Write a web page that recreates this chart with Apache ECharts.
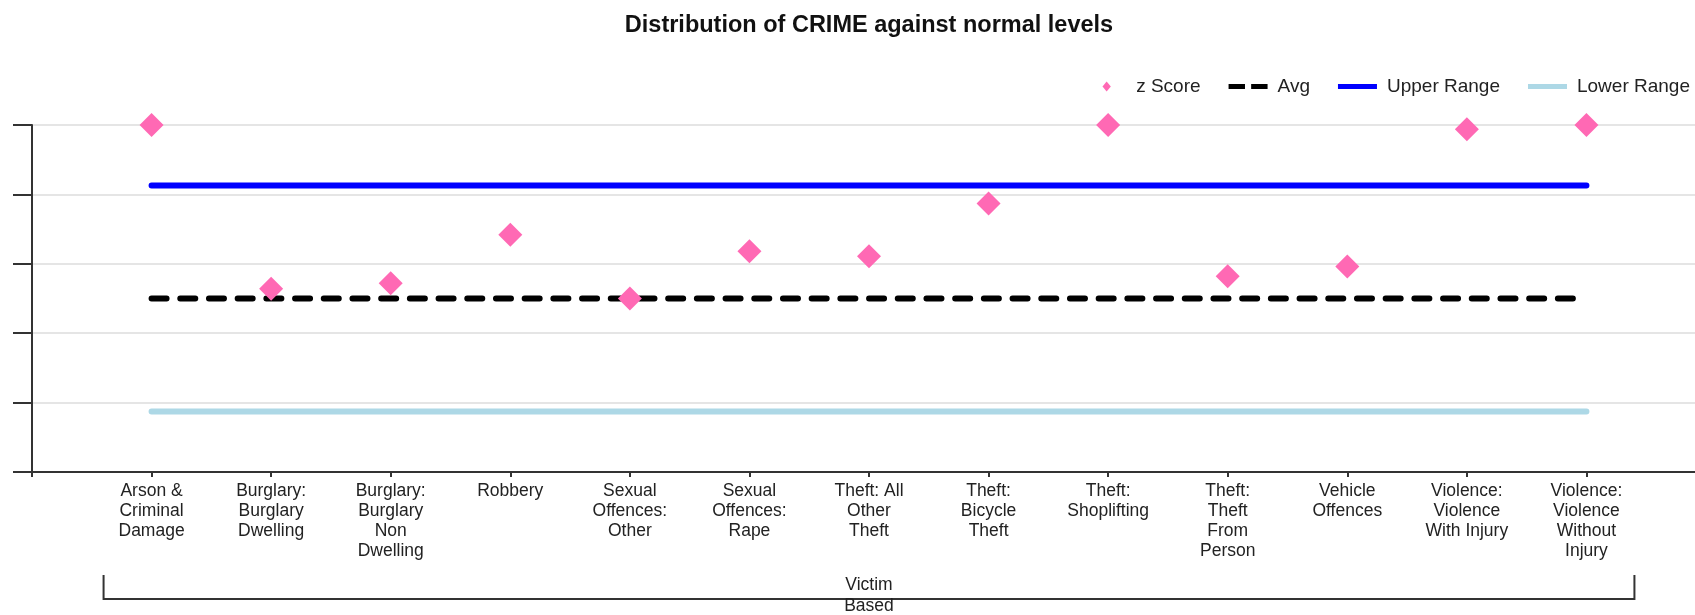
<!DOCTYPE html>
<html>
<head>
<meta charset="utf-8">
<script src="https://cdn.jsdelivr.net/npm/echarts@6/dist/echarts.min.js"></script>
<style>
  html, body { margin: 0; padding: 0; background: #ffffff; }
  #chart { width: 1695px; height: 615px; }
</style>
</head>
<body>
<div id="chart"></div>
<script>
// ---- Data ----
const categories = [
  'Arson & Criminal Damage',
  'Burglary: Burglary Dwelling',
  'Burglary: Burglary Non Dwelling',
  'Robbery',
  'Sexual Offences: Other',
  'Sexual Offences: Rape',
  'Theft: All Other Theft',
  'Theft: Bicycle Theft',
  'Theft: Shoplifting',
  'Theft: Theft From Person',
  'Vehicle Offences',
  'Violence: Violence With Injury',
  'Violence: Violence Without Injury'
];
const tickLabels = [
  'Arson &\nCriminal\nDamage',
  'Burglary:\nBurglary\nDwelling',
  'Burglary:\nBurglary\nNon\nDwelling',
  'Robbery',
  'Sexual\nOffences:\nOther',
  'Sexual\nOffences:\nRape',
  'Theft: All\nOther\nTheft',
  'Theft:\nBicycle\nTheft',
  'Theft:\nShoplifting',
  'Theft:\nTheft\nFrom\nPerson',
  'Vehicle\nOffences',
  'Violence:\nViolence\nWith Injury',
  'Violence:\nViolence\nWithout\nInjury'
];
const groupLabel = 'Victim\nBased';
// z scores (avg = 0); the axis runs from -2.5 (bottom) to 2.5 (top)
const zScore     = [2.50, 0.14, 0.22, 0.92, 0.00, 0.68, 0.61, 1.37, 2.50, 0.32, 0.46, 2.44, 2.50];
const avgLine    = [0, 0, 0, 0, 0, 0, 0, 0, 0, 0, 0, 0, 0];
const upperRange = [1.63, 1.63, 1.63, 1.63, 1.63, 1.63, 1.63, 1.63, 1.63, 1.63, 1.63, 1.63, 1.63];
const lowerRange = [-1.63, -1.63, -1.63, -1.63, -1.63, -1.63, -1.63, -1.63, -1.63, -1.63, -1.63, -1.63, -1.63];
const Z_MIN = -2.5, Z_MAX = 2.5;

// value axis is drawn from 0..5 so that ticks fall on -2.5, -1.5, ..., 2.5
const toAxis = v => +(v - Z_MIN).toFixed(3);
const pad = arr => ['-'].concat(arr.map(toAxis), ['-']);
const axisCats = [''].concat(tickLabels, ['']);

const FONT = '"Liberation Sans", Arial, sans-serif';
const chart = echarts.init(document.getElementById('chart'));

const ICON_DIAMOND = 'path://M5,0L10,6L5,12L0,6Z';
const ICON_LINE = 'path://M0,0H39V5H0Z';
const ICON_DASH = 'path://M0,0H16V5H0ZM22,0H38V5H22Z';

const option = {
  animation: false,
  backgroundColor: '#ffffff',
  title: {
    text: 'Distribution of CRIME against normal levels',
    left: 864,
    top: 9,
    textAlign: 'center',
    textStyle: { fontFamily: FONT, fontSize: 23.5, fontWeight: 'bold', color: '#111' }
  },
  legend: {
    right: 0,
    top: 72,
    itemWidth: 39,
    itemHeight: 10,
    itemGap: 28,
    symbolKeepAspect: true,
    textStyle: { fontFamily: FONT, fontSize: 19, color: '#222', padding: [0, 0, 0, 5] },
    data: [
      { name: 'z Score', icon: ICON_DIAMOND },
      { name: 'Avg', icon: ICON_DASH },
      { name: 'Upper Range', icon: ICON_LINE },
      { name: 'Lower Range', icon: ICON_LINE }
    ]
  },
  grid: { left: 32, top: 125, width: 1674, height: 347, containLabel: false, outerBoundsMode: 'none' },
  xAxis: {
    type: 'category',
    boundaryGap: false,
    data: axisCats,
    axisLine: { show: true, lineStyle: { color: '#333', width: 2 } },
    axisTick: { show: true, length: 5, lineStyle: { color: '#333', width: 2 } },
    axisLabel: {
      interval: 0, margin: 9, fontFamily: FONT, fontSize: 17.5, lineHeight: 20,
      color: '#222', align: 'center', verticalAlign: 'top'
    },
    splitLine: { show: false }
  },
  yAxis: {
    type: 'value',
    min: 0,
    max: Z_MAX - Z_MIN,
    interval: 1,
    axisLine: { show: true, onZero: false, lineStyle: { color: '#333', width: 2 } },
    axisTick: { show: true, length: 19, lineStyle: { color: '#333', width: 2 } },
    axisLabel: { show: false },
    splitLine: { show: true, lineStyle: { color: '#dddddd', width: 1.5 } }
  },
  series: [
    {
      name: 'Lower Range', type: 'line', data: pad(lowerRange), symbol: 'none',
      lineStyle: { color: '#ADD8E6', width: 6, cap: 'round' }, itemStyle: { color: '#ADD8E6' }, z: 2
    },
    {
      name: 'Upper Range', type: 'line', data: pad(upperRange), symbol: 'none',
      lineStyle: { color: '#0000FF', width: 6, cap: 'round' }, itemStyle: { color: '#0000FF' }, z: 2
    },
    {
      name: 'Avg', type: 'line', data: pad(avgLine), symbol: 'none',
      lineStyle: { color: '#000000', width: 6, type: [15, 13.7], cap: 'round' }, itemStyle: { color: '#000000' }, z: 3
    },
    {
      name: 'z Score', type: 'scatter', data: pad(zScore), symbol: 'diamond', symbolSize: 24,
      itemStyle: { color: '#FF69B4', opacity: 1 }, clip: false, z: 4
    }
  ]
};
chart.setOption(option);

// group bracket ("Victim Based") below the category labels
const xFirst = chart.convertToPixel({ xAxisIndex: 0 }, 1);
const xLast = chart.convertToPixel({ xAxisIndex: 0 }, categories.length);
const yBase = chart.convertToPixel({ yAxisIndex: 0 }, 0);
const bx0 = xFirst - 48, bx1 = xLast + 48;
const by = yBase + 127;
chart.setOption({
  graphic: [
    {
      type: 'polyline',
      shape: { points: [[bx0, by - 24], [bx0, by], [bx1, by], [bx1, by - 24]] },
      style: { stroke: '#333', lineWidth: 2, fill: null }
    },
    {
      type: 'text',
      x: (bx0 + bx1) / 2,
      y: by - 24,
      style: {
        text: groupLabel, fontFamily: FONT, fontSize: 17.5, lineHeight: 21,
        fill: '#222', align: 'center', verticalAlign: 'top'
      }
    }
  ]
});
</script>
</body>
</html>
